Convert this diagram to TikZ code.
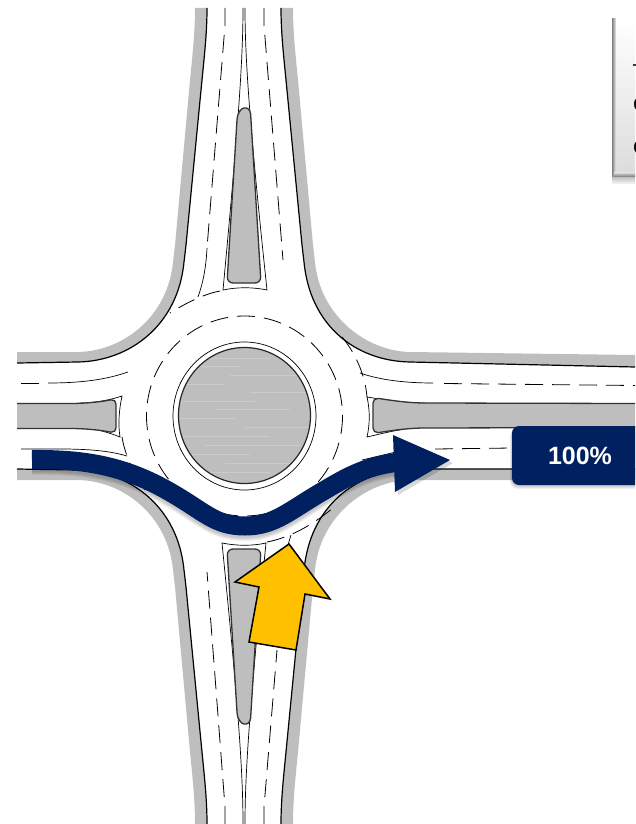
\documentclass[tikz,border=0pt]{standalone}
\usepackage{fontspec}
\setmainfont{Liberation Sans}
\definecolor{roadgrey}{HTML}{BEBEBE}
\definecolor{flowblue}{HTML}{002060}
\definecolor{flowyellow}{HTML}{FFC000}
\usetikzlibrary{calc,positioning}

\begin{document}
\begin{tikzpicture}[x=1pt,y=-1pt,
            verge/.style={fill=roadgrey,draw=none},
            curb/.style={draw=black,line width=1.2pt},
            island/.style={fill=roadgrey,draw=black!80,line width=1.3pt},
            thinline/.style={draw=black,line width=0.7pt},
            lane/.style={draw=black,line width=0.8pt,dash pattern=on 18pt off 9pt},
            shadowline/.style={draw=black,opacity=0.06},
            flowline/.style={draw=flowblue,line width=19pt},
            pctbox/.style={fill=flowblue,text=white,rounded corners=7pt,minimum width=136pt,minimum height=59pt,font=\fontsize{25}{25}\selectfont\bfseries},
            legendtext/.style={anchor=west,inner sep=0pt,font=\fontsize{20}{20}\selectfont}
        ]
            \useasboundingbox (0,0) rectangle (635,824);
            \clip (0,0) rectangle (635,824);
            % grey verges
            \path[verge] (195,8) .. controls (195,30) and (193,50) .. (190,80) -- (175,245) -- (173,262) .. controls (168,315) and (125,351) .. (78,352) -- (17,352)
                -- (17,363) -- (78,362) .. controls (130,361) and (178,325) .. (184,262) -- (186,245) -- (202,80) .. controls (205,50) and (207,30) .. (207,8) -- cycle;
            \path[verge] (293,8) .. controls (293,30) and (295,50) .. (298,80) -- (313,245) -- (315,262) .. controls (320,315) and (365,351) .. (410,352) -- (635,355)
                -- (635,367) -- (410,362) .. controls (355,361) and (310,325) .. (304,262) -- (302,245) -- (286,80) .. controls (283,50) and (281,30) .. (281,8) -- cycle;
            \path[verge] (195,824) .. controls (195,802) and (193,782) .. (190,752) -- (175,587) -- (173,570) .. controls (168,517) and (125,481) .. (78,480) -- (17,480)
                -- (17,469) -- (78,470) .. controls (130,471) and (178,507) .. (184,570) -- (186,587) -- (202,752) .. controls (205,782) and (207,802) .. (207,824) -- cycle;
            \path[verge] (293,824) .. controls (293,802) and (295,782) .. (298,752) -- (313,587) -- (315,570) .. controls (320,517) and (365,481) .. (410,480) -- (635,480)
                -- (635,469) -- (410,469) .. controls (355,471) and (310,507) .. (304,570) -- (302,587) -- (286,752) .. controls (283,782) and (281,802) .. (281,824) -- cycle;
            % curbs
            \draw[curb] (207,8) .. controls (207,30) and (205,50) .. (202,80) -- (186,245) -- (184,262) .. controls (178,325) and (130,361) .. (78,362) -- (17,363);
            \draw[curb] (281,8) .. controls (281,30) and (283,50) .. (286,80) -- (302,245) -- (304,262) .. controls (310,325) and (355,361) .. (410,362) -- (635,367);
            \draw[curb] (207,824) .. controls (207,802) and (205,782) .. (202,752) -- (186,587) -- (184,570) .. controls (178,507) and (130,471) .. (78,470) -- (17,469);
            \draw[curb] (281,824) .. controls (281,802) and (283,782) .. (286,752) -- (302,587) -- (304,570) .. controls (310,507) and (355,471) .. (410,469) -- (635,469);
            % thin outlines of the islands
            \draw[thinline] (243,8) .. controls (243,60) and (238,130) .. (223,290) .. controls (237,287) and (253,287) .. (267,290) .. controls (250,130) and (245,60) .. (245,8);
            \draw[thinline] (243,824) .. controls (243,772) and (238,702) .. (222,543) .. controls (237,546) and (253,546) .. (266,543) .. controls (250,702) and (245,772) .. (245,824);
            \draw[thinline] (80,403) .. controls (95,403) and (110,400) .. (122,396) .. controls (119,410) and (118,424) .. (120,437) .. controls (110,433) and (95,428) .. (80,428);
            \draw[thinline] (425,403) .. controls (405,403) and (385,400) .. (367,397) .. controls (370,410) and (370,424) .. (367,437) .. controls (380,434) and (392,431) .. (405,429);
            % splitter islands
            \filldraw[island] [rounded corners=6pt] (237,120) -- (227,283) -- (261,283) -- (251,120) [sharp corners] .. controls (250,105) and (238,105) .. cycle;
            \filldraw[island] [rounded corners=6pt] (237,712) -- (227,549) -- (261,549) -- (251,712) [sharp corners] .. controls (250,727) and (238,727) .. cycle;
            \filldraw[island] (17,403.5) -- (70,403.5) .. controls (85,403.5) and (100,402) .. (110,400) [rounded corners=5pt] -- (116,399) -- (116,433) [sharp corners] -- (110,432) .. controls (100,430) and (85,428.5) .. (70,428.5) -- (17,428.5);
            \filldraw[island] (635,403.5) -- (425,403) .. controls (410,403) and (395,401) .. (379,398.5) [rounded corners=5pt] -- (373,398) -- (373,433) [sharp corners] -- (379,432.5) .. controls (395,430) and (410,428) .. (425,428) -- (635,427.5);
            % centre island
            \draw[thinline] (244.5,416) ellipse [x radius=71.5,y radius=74];
            \begin{scope}
            \clip (244.5,415.5) ellipse [x radius=66,y radius=68];
            \fill[roadgrey] (170,340) rectangle (320,490);
            \foreach \ya/\xa/\xb in {358/200/270,366/185/240,375/230/305,384/180/225,392/250/310,401/178/255,409/215/290,418/180/235,427/245/312,436/178/270,445/205/300,454/185/250,463/225/295,472/200/270}
                \draw[white,opacity=0.2,line width=0.9pt] (\xa,\ya) -- (\xb,\ya);
            \end{scope}
            \draw[black!85,line width=1.2pt] (244.5,415.5) ellipse [x radius=66,y radius=68];
            % lane markings
            \draw[lane] (244.5,416) ellipse [x radius=98,y radius=100];
            \draw[lane] (220,291) .. controls (204,294) and (186,303) .. (170,313);
            \draw[lane] (342,337) .. controls (353,350) and (365,372) .. (367,397);
            \draw[lane] (122,437) .. controls (125,455) and (134,475) .. (145,490);
            \draw[lane] (267,542) .. controls (288,538) and (310,527) .. (333,508);
            \draw[thinline] (291,535) -- (288,545);
            \draw[lane] (225,8) -- (225,25) -- (207,248);
            \draw[thinline] (207,248) .. controls (206,268) and (203,283) .. (198,297);
            \draw[lane] (264,8) -- (264,25) -- (283,260);
            \draw[lane] (225,824) -- (225,807) -- (207,572);
            \draw[lane] (264,824) -- (264,807) -- (277,650);
            \draw[lane] (21,383) -- (40,383);
            \draw[thinline] (48,383) .. controls (80,383) and (105,380) .. (128,372);
            \draw[thinline] (21,449) -- (60,449) .. controls (90,449) and (110,451) .. (127,456);
            \draw[thinline] (360,373) .. controls (380,380) and (405,383) .. (433,383);
            \draw[lane] (444,383.5) -- (635,385.5);
            \draw[thinline] (362,460) -- (396,452);
            \draw[lane] (435,449) -- (512,448);
            % shadow of the blue flow
            \foreach \w in {18,20,22,24}
                \draw[shadowline,line width=\w pt] (32,463) .. controls (85,462) and (125,469) .. (170,495) .. controls (205,515) and (215,529) .. (245,529) .. controls (275,529) and (290,513) .. (325,493) .. controls (350,478) and (370,468) .. (400,465);
            \fill[black,opacity=0.15] (396,438) -- (398,495) -- (453,463) -- cycle;
            % blue flow
            \draw[flowline] (32,459.5) .. controls (85,459) and (125,466) .. (170,492) .. controls (205,512) and (215,526) .. (245,526) .. controls (275,526) and (290,510) .. (325,490) .. controls (350,475) and (370,465) .. (400,462);
            \fill[flowblue] (393,435) -- (395,492) -- (450,460) -- cycle;
            % yellow arrow
            \filldraw[fill=flowyellow,draw=black,line width=1.5pt,line join=miter] (289,544) -- (330,599) -- (305,594) -- (296,650) -- (249,642) -- (259,587) -- (235,582) -- cycle;
            % share of the flow
            \foreach \o in {1,2,3,4}
                \fill[black,opacity=0.06,rounded corners=7pt] (512-\o/2,426+\o) rectangle (660,485+\o);
            \node[pctbox] (pct) at (580,455.5) {100\%};
            % legend box, cut by the page edge
            \foreach \o in {2,4,6,8}
                \fill[black,opacity=0.07] (612,176) rectangle (640,176+\o);
            \shade[top color=white,bottom color=black!14] (612,19) rectangle (640,176);
            \shade[left color=black!50,right color=black!6] (612,19) rectangle (616,176);
            \shade[top color=black!10,bottom color=black!45] (614,172) rectangle (640,176);
            \node[legendtext] (legendone) at (632.5,71.5) {T};
            \node[legendtext] (legendtwo) at (632.8,105) {C};
            \node[legendtext] (legendthree) at (632.8,148) {C};
        \end{tikzpicture}
\end{document}
